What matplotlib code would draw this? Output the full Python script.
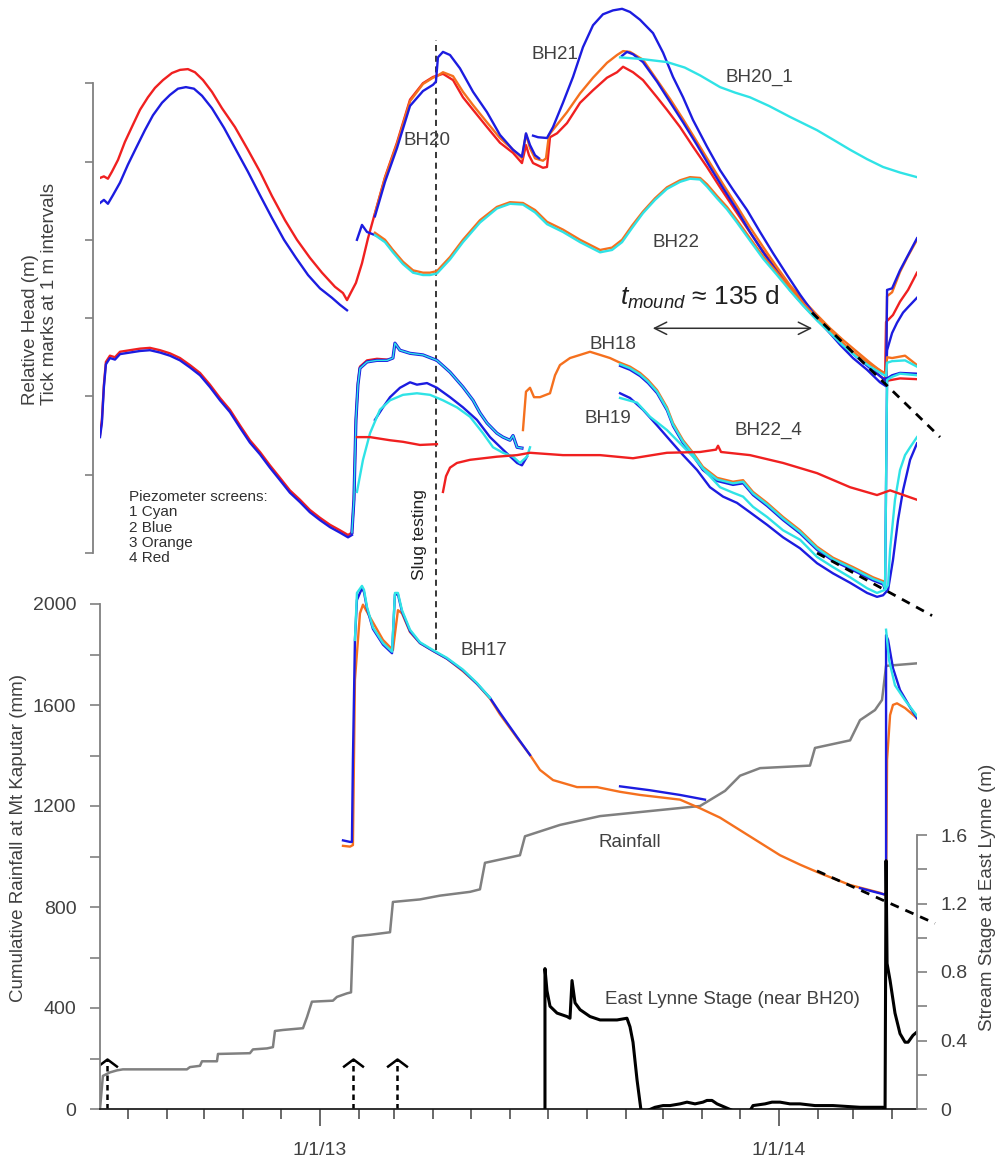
import numpy as np
import pandas as pd
import matplotlib
matplotlib.use("Agg")
import matplotlib.pyplot as plt
from matplotlib.path import Path

plt.rcParams["font.family"] = ["Liberation Sans", "DejaVu Sans"]
plt.rcParams["mathtext.fontset"] = "custom"
plt.rcParams["mathtext.rm"] = "Liberation Sans"
plt.rcParams["mathtext.it"] = "Liberation Sans:italic"

BLUE = "#1c1ce0"
RED = "#f02020"
ORANGE = "#f5701e"
CYAN = "#2fe3e6"
GREY = "#808080"
TXT = "#404040"

# time axis: days counted from 1 Jan 2013
T0, T1 = -174.9, 474.7

# ---- piezometer heads (m, arbitrary offsets per bore) ----
bh20_red = [(-174.9, 4.79), (-171.8, 4.81), (-168.6, 4.78), (-165.4, 4.87), (-160.6, 5.02),
            (-155.1, 5.25), (-148.7, 5.47), (-143.1, 5.66), (-136.8, 5.82), (-131.2, 5.94),
            (-124.8, 6.04), (-117.7, 6.13), (-111.3, 6.17), (-105.0, 6.18), (-99.4, 6.14),
            (-93.0, 6.04), (-85.9, 5.89), (-77.9, 5.68), (-67.6, 5.44), (-57.3, 5.15),
            (-47.7, 4.87), (-38.2, 4.56), (-27.8, 4.25), (-18.3, 4.00), (-8.0, 3.77),
            (1.6, 3.58), (11.9, 3.40), (18.3, 3.32), (21.5, 3.23), (24.7, 3.33), (28.6, 3.45),
            (33.4, 3.70), (38.2, 4.02), (43.7, 4.34), (51.7, 4.80), (61.2, 5.24), (71.6, 5.79),
            (81.9, 6.00), (89.9, 6.08), (97.8, 6.12), (105.8, 6.04), (113.7, 5.82), (121.7, 5.66),
            (132.8, 5.44), (143.1, 5.24), (153.5, 5.11), (160.6, 4.98), (163.8, 5.21),
            (166.2, 5.08), (169.4, 4.98), (177.3, 4.92), (180.5, 4.93), (182.9, 5.31),
            (188.5, 5.36), (196.4, 5.49), (206.8, 5.75), (217.1, 5.91), (228.2, 6.07),
            (236.2, 6.14), (241.0, 6.21), (248.9, 6.14), (256.8, 6.04), (268.0, 5.82),
            (275.9, 5.66), (286.3, 5.44), (296.6, 5.19), (307.7, 4.93), (318.1, 4.67),
            (328.4, 4.42), (339.6, 4.15), (349.9, 3.91), (360.2, 3.68), (371.4, 3.45),
            (381.7, 3.23), (392.0, 3.04), (403.2, 2.85), (413.5, 2.69), (423.8, 2.55),
            (435.0, 2.41), (445.3, 2.26), (449.3, 2.21), (450.1, 2.95), (455.6, 3.04),
            (461.2, 3.21), (467.6, 3.36), (474.7, 3.58)]

bh20_blue_2012 = [(-174.9, 4.47), (-171.8, 4.51), (-168.6, 4.46), (-164.6, 4.57), (-159.0, 4.73),
                  (-152.7, 4.96), (-146.3, 5.17), (-139.2, 5.40), (-132.8, 5.59), (-125.6, 5.75),
                  (-119.3, 5.85), (-112.9, 5.93), (-106.6, 5.95), (-100.2, 5.93), (-93.8, 5.84),
                  (-85.9, 5.68), (-76.3, 5.43), (-66.8, 5.15), (-57.3, 4.87), (-47.7, 4.57),
                  (-38.2, 4.28), (-28.6, 4.00), (-19.1, 3.77), (-9.5, 3.55), (0.0, 3.38),
                  (9.5, 3.26), (15.9, 3.17), (21.5, 3.10)]

bh20_blue_2013 = [(43.7, 4.30), (51.7, 4.74), (61.2, 5.17), (71.6, 5.71), (81.9, 5.90),
                  (89.9, 5.98), (92.2, 6.02), (93.8, 6.33), (97.8, 6.40), (103.4, 6.36),
                  (111.3, 6.19), (121.7, 5.89), (132.8, 5.63), (143.1, 5.34), (153.5, 5.15),
                  (160.6, 5.06), (163.8, 5.36), (167.0, 5.21), (171.0, 5.08), (174.2, 5.04)]

bh20_blue_late = [(240.2, 6.35), (244.1, 6.40), (248.9, 6.37), (256.8, 6.27), (268.0, 6.02),
                  (278.3, 5.76), (288.7, 5.50), (299.8, 5.21), (310.1, 4.93), (320.5, 4.66),
                  (331.6, 4.38), (341.9, 4.10), (352.3, 3.84), (363.4, 3.59), (373.7, 3.36),
                  (384.1, 3.17), (395.2, 2.98), (405.6, 2.81), (415.9, 2.66), (427.0, 2.50),
                  (437.4, 2.36), (447.7, 2.23), (450.1, 2.20), (450.9, 2.59), (454.9, 2.81),
                  (458.8, 2.94), (463.6, 3.07), (467.6, 3.14), (474.7, 3.26)]

bh20_orange = [(43.7, 4.33), (51.7, 4.79), (61.2, 5.22), (71.6, 5.77), (81.9, 5.99), (89.9, 6.07),
               (93.0, 6.09), (97.8, 6.14), (105.8, 6.09), (113.7, 5.89), (121.7, 5.72),
               (132.8, 5.50), (143.1, 5.30), (153.5, 5.15), (160.6, 5.04), (163.8, 5.35),
               (167.0, 5.17), (171.0, 5.04), (177.3, 5.01), (179.7, 5.04), (182.1, 5.34),
               (188.5, 5.47), (196.4, 5.63), (206.8, 5.87), (217.1, 6.07), (228.2, 6.26),
               (236.2, 6.36), (241.0, 6.41), (246.5, 6.40), (256.8, 6.30), (268.0, 6.04),
               (278.3, 5.80), (288.7, 5.54), (299.8, 5.25), (310.1, 4.98), (320.5, 4.71),
               (331.6, 4.43), (341.9, 4.16), (352.3, 3.91), (363.4, 3.65), (373.7, 3.42),
               (384.1, 3.23), (395.2, 3.04), (405.6, 2.87), (415.9, 2.72), (427.0, 2.57),
               (437.4, 2.43), (447.7, 2.30), (450.1, 2.26), (450.9, 3.28), (454.9, 3.33),
               (461.2, 3.59), (466.8, 3.77), (474.7, 4.00)]

bh21_blue = [(169.4, 5.33), (173.4, 5.31), (180.5, 5.30), (185.3, 5.44), (193.2, 5.75),
             (201.2, 6.08), (209.1, 6.46), (217.1, 6.74), (225.0, 6.88), (233.0, 6.93),
             (240.2, 6.95), (246.5, 6.91), (254.5, 6.81), (264.8, 6.64), (272.8, 6.39),
             (280.7, 6.08), (288.7, 5.82), (296.6, 5.53), (307.7, 5.19), (318.1, 4.89),
             (328.4, 4.64), (339.6, 4.38), (349.9, 4.10), (360.2, 3.83), (371.4, 3.55),
             (381.7, 3.30), (392.0, 3.07), (403.2, 2.85), (413.5, 2.66), (423.8, 2.49),
             (435.0, 2.34), (445.3, 2.18), (450.1, 2.13), (450.9, 3.36), (454.9, 3.38),
             (461.2, 3.61), (466.8, 3.78), (474.7, 4.02)]

bh20_1_cyan = [(238.6, 6.33), (255.0, 6.31), (275.9, 6.27), (290.0, 6.20), (302.2, 6.10),
               (318.1, 5.95), (330.0, 5.88), (341.9, 5.82), (357.0, 5.71), (373.7, 5.57),
               (395.2, 5.40), (410.0, 5.26), (421.5, 5.15), (435.0, 5.03), (447.7, 4.93),
               (461.0, 4.86), (474.7, 4.80)]

bh22_days = [43.7, 51.7, 58.0, 66.0, 74.0, 81.9, 87.5, 93.0, 103.4, 113.7, 127.2, 140.7,
             151.1, 161.4, 171.0, 180.5, 193.2, 206.8, 222.7, 232.2, 240.2, 248.1, 256.8,
             266.4, 275.9, 286.3, 294.2, 302.2, 307.7, 315.7, 323.6, 331.6, 341.9, 352.3,
             363.4, 373.7, 384.1, 395.2, 405.6, 415.9, 427.0, 437.4, 447.7, 450.1, 450.9,
             454.9, 465.2, 474.7]
bh22_orange = [4.09, 4.00, 3.87, 3.72, 3.61, 3.58, 3.58, 3.60, 3.78, 4.00, 4.25, 4.42, 4.48,
               4.47, 4.38, 4.23, 4.13, 4.00, 3.87, 3.90, 4.00, 4.18, 4.36, 4.53, 4.67, 4.76,
               4.80, 4.79, 4.71, 4.56, 4.42, 4.25, 4.02, 3.79, 3.58, 3.38, 3.19, 3.00, 2.84,
               2.68, 2.53, 2.41, 2.31, 2.29, 2.50, 2.49, 2.52, 2.40]
bh22_cyan = [4.06, 3.97, 3.84, 3.69, 3.58, 3.55, 3.55, 3.57, 3.75, 3.97, 4.22, 4.40, 4.46,
             4.45, 4.35, 4.20, 4.10, 3.97, 3.84, 3.87, 3.97, 4.15, 4.34, 4.51, 4.65, 4.74,
             4.78, 4.77, 4.68, 4.53, 4.39, 4.22, 3.99, 3.76, 3.55, 3.35, 3.16, 2.97, 2.81,
             2.65, 2.50, 2.38, 2.28, 2.26, 2.43, 2.45, 2.46, 2.38]
bh22_blue = [(29.4, 4.00), (33.4, 4.19), (37.4, 4.10), (45.3, 4.05), (51.7, 3.98),
             (58.0, 3.86), (66.0, 3.70), (74.0, 3.60)]

bh18_days_2012 = [-174.9, -173.4, -171.8, -170.2, -167.0, -163.0, -159.0, -151.1, -143.1,
                  -135.2, -127.2, -119.3, -111.3, -103.4, -95.4, -87.5, -79.5, -71.6, -63.6,
                  -55.7, -47.7, -39.8, -31.8, -23.9, -15.9, -8.0, 0.0, 8.0, 15.9, 22.3, 25.4]
bh18_red_2012 = [1.51, 1.70, 2.15, 2.44, 2.52, 2.50, 2.57, 2.59, 2.61, 2.62, 2.59, 2.55, 2.49,
                 2.40, 2.30, 2.15, 1.98, 1.83, 1.63, 1.44, 1.29, 1.12, 0.96, 0.80, 0.68, 0.55,
                 0.45, 0.36, 0.29, 0.23, 0.26]
bh18_blue_2012 = [1.48, 1.66, 2.12, 2.41, 2.49, 2.47, 2.54, 2.56, 2.58, 2.59, 2.56, 2.52, 2.46,
                  2.37, 2.27, 2.12, 1.95, 1.80, 1.60, 1.41, 1.26, 1.09, 0.93, 0.77, 0.65, 0.52,
                  0.42, 0.33, 0.26, 0.20, 0.23]

bh18_2013 = [(25.4, 0.26), (27.0, 0.68), (28.6, 1.70), (30.2, 2.15), (31.8, 2.36), (37.4, 2.44),
             (45.3, 2.46), (53.3, 2.46), (58.0, 2.49), (59.6, 2.68), (63.6, 2.59), (71.6, 2.55),
             (81.9, 2.53), (93.0, 2.46), (103.4, 2.31), (113.7, 2.12), (121.7, 1.95),
             (127.2, 1.79), (132.8, 1.66), (140.7, 1.53), (145.5, 1.48), (151.1, 1.44),
             (153.5, 1.50), (156.7, 1.35), (160.6, 1.34)]
bh18_red_2013 = [(25.4, 0.26), (27.0, 0.68), (28.6, 1.70), (30.2, 2.17), (31.8, 2.38),
                 (37.4, 2.46), (45.3, 2.48), (53.3, 2.47)]

bh18_orange = [(161.4, 1.57), (163.8, 2.06), (167.0, 2.11), (170.2, 1.99), (174.9, 1.99),
               (182.9, 2.04), (186.9, 2.27), (190.8, 2.40), (198.8, 2.49), (206.8, 2.53),
               (214.7, 2.57), (222.7, 2.53), (230.6, 2.49), (238.6, 2.43), (246.5, 2.38),
               (254.5, 2.30), (260.8, 2.21), (268.0, 2.08), (275.9, 1.86), (280.7, 1.66),
               (288.7, 1.44), (296.6, 1.28), (304.5, 1.10), (315.7, 0.96), (328.4, 0.91),
               (336.4, 0.93), (344.3, 0.78), (355.5, 0.64), (368.2, 0.46), (381.7, 0.29),
               (395.2, 0.08), (407.9, -0.06), (423.8, -0.18), (439.7, -0.31), (447.7, -0.36)]
bh18_days_late = [238.6, 246.5, 254.5, 260.8, 268.0, 275.9, 280.7, 288.7, 296.6, 304.5, 315.7,
                  328.4, 336.4, 344.3, 355.5, 368.2, 381.7, 395.2, 407.9, 423.8, 439.7, 447.7,
                  449.3, 450.9, 454.9, 461.2, 474.7]
bh18_cyan_late = [2.41, 2.36, 2.28, 2.19, 2.06, 1.84, 1.64, 1.42, 1.26, 1.08, 0.94, 0.89, 0.91,
                  0.76, 0.62, 0.44, 0.27, 0.06, -0.08, -0.20, -0.33, -0.38, -0.45, 2.21, 2.25,
                  2.29, 2.27]
bh18_blue_late = [2.39, 2.34, 2.26, 2.17, 2.04, 1.82, 1.62, 1.40, 1.24, 1.06, 0.92, 0.87, 0.89,
                  0.74, 0.60, 0.42, 0.25, 0.04, -0.10, -0.22, -0.35, -0.40, -0.47, 2.23, 2.27,
                  2.30, 2.29]
bh18_red_end = [(450.9, 2.20), (461.2, 2.23), (474.7, 2.22)]

bh19_cyan_2013 = [(29.4, 0.78), (34.2, 1.19), (39.8, 1.53), (47.7, 1.83), (55.7, 1.95),
                  (66.0, 2.02), (77.1, 2.04), (87.5, 2.02), (97.8, 1.95), (108.9, 1.86),
                  (119.3, 1.74), (129.6, 1.53), (137.6, 1.35), (145.5, 1.28), (153.5, 1.23),
                  (159.0, 1.15), (164.6, 1.23), (167.0, 1.35)]
bh19_blue_2013 = [(43.7, 1.70), (50.1, 1.86), (55.7, 1.99), (63.6, 2.11), (71.6, 2.18),
                  (77.1, 2.15), (85.1, 2.17), (93.0, 2.11), (103.4, 1.99), (113.7, 1.86),
                  (124.8, 1.70), (135.2, 1.48), (145.5, 1.32), (156.7, 1.15), (160.6, 1.12),
                  (164.6, 1.23)]
bh19_cyan_late = [(238.6, 1.98), (252.1, 1.92), (262.4, 1.74), (275.9, 1.57), (286.3, 1.40),
                  (296.6, 1.23), (307.7, 1.02), (318.1, 0.84), (328.4, 0.77), (336.4, 0.72),
                  (344.3, 0.59), (355.5, 0.46), (368.2, 0.29), (381.7, 0.17), (395.2, -0.05),
                  (407.9, -0.18), (421.5, -0.31), (435.0, -0.45), (442.9, -0.51), (449.3, -0.47),
                  (451.7, -0.41), (453.3, 0.04), (457.2, 0.68), (461.2, 1.06), (465.2, 1.25),
                  (469.2, 1.35), (474.7, 1.48)]
bh19_blue_late = [(238.6, 2.04), (246.5, 1.98), (256.8, 1.83), (268.0, 1.63), (278.3, 1.44),
                  (288.7, 1.25), (299.8, 1.06), (310.1, 0.84), (320.5, 0.72), (331.6, 0.64),
                  (341.9, 0.52), (355.5, 0.36), (368.2, 0.20), (381.7, 0.06), (395.2, -0.13),
                  (407.9, -0.26), (421.5, -0.38), (435.0, -0.51), (442.9, -0.56), (447.7, -0.54),
                  (451.7, -0.47), (455.6, -0.09), (459.6, 0.42), (463.6, 0.80), (469.2, 1.19),
                  (474.7, 1.40)]

bh22_4_red_a = [(29.4, 1.48), (39.8, 1.48), (55.7, 1.44), (66.0, 1.42), (79.5, 1.38), (93.0, 1.39)]
bh22_4_red_b = [(97.8, 0.78), (100.2, 0.98), (103.4, 1.09), (108.9, 1.15), (119.3, 1.19),
                (140.7, 1.23), (156.7, 1.25), (167.0, 1.28), (193.2, 1.25), (222.7, 1.25),
                (248.9, 1.21), (275.9, 1.28), (302.2, 1.29), (314.9, 1.32), (316.5, 1.37),
                (318.9, 1.29), (341.9, 1.25), (368.2, 1.15), (395.2, 1.02), (421.5, 0.84),
                (442.9, 0.74), (453.3, 0.80), (474.7, 0.68)]

bh17_orange = [(18.3, -3.74), (23.9, -3.75), (26.2, -3.73), (27.8, -1.62), (31.8, -0.77),
               (34.2, -0.66), (39.8, -0.82), (50.1, -1.11), (58.0, -1.24), (62.0, -0.73),
               (65.2, -0.77), (71.6, -1.01), (79.5, -1.15), (89.9, -1.25), (101.0, -1.35),
               (113.7, -1.51), (124.8, -1.67), (135.2, -1.86), (143.1, -2.06), (156.7, -2.36),
               (167.0, -2.58), (174.9, -2.77), (185.3, -2.90), (204.4, -2.99), (220.3, -2.99),
               (238.6, -3.05), (254.5, -3.09), (270.4, -3.12), (286.3, -3.15), (302.2, -3.26),
               (318.1, -3.38), (334.0, -3.54), (349.9, -3.70), (365.8, -3.86), (381.7, -3.98),
               (397.6, -4.09), (421.5, -4.24), (445.3, -4.34), (450.1, -4.37), (450.9, -2.64),
               (453.3, -2.07), (455.6, -1.94), (458.8, -1.92), (465.2, -1.98), (474.7, -2.11)]
bh17_blue = [(18.3, -3.67), (23.9, -3.69), (25.4, -3.69), (26.2, -2.64), (27.8, -1.11),
             (29.4, -0.60), (33.4, -0.45), (35.0, -0.50), (37.4, -0.71), (42.1, -0.97),
             (50.1, -1.17), (57.3, -1.28), (59.6, -0.53), (62.0, -0.53), (65.2, -0.75),
             (71.6, -1.00), (79.5, -1.15), (89.9, -1.25), (101.0, -1.35), (113.7, -1.50),
             (124.8, -1.67), (135.2, -1.85), (143.1, -2.04), (156.7, -2.35), (167.0, -2.58)]
bh17_cyan = [(27.8, -1.11), (29.4, -0.51), (33.4, -0.42), (35.0, -0.47), (37.4, -0.69),
             (42.1, -0.95), (50.1, -1.15), (57.3, -1.26), (59.6, -0.51), (62.0, -0.51),
             (65.2, -0.73), (71.6, -0.98), (79.5, -1.14), (89.9, -1.24), (101.0, -1.34),
             (113.7, -1.49), (124.8, -1.66), (135.2, -1.85)]
bh17_blue_mid = [(238.6, -2.98), (262.4, -3.03), (286.3, -3.09), (306.1, -3.15)]
bh17_blue_end = [(429.4, -4.28), (448.5, -4.36), (450.1, -4.34), (450.1, -1.05), (451.7, -1.11),
                 (455.6, -1.47), (461.2, -1.75), (469.2, -1.97), (474.7, -2.11)]
bh17_cyan_end = [(450.1, -0.98), (452.5, -1.37), (457.2, -1.69), (465.2, -1.88), (474.7, -2.08)]

# recession trends extrapolated past the end of the record
trend_bh20 = [(391.2, 3.07), (493.0, 1.48)]
trend_bh18 = [(395.2, 0.00), (486.7, -0.80)]
trend_bh17 = [(395.2, -4.06), (489.0, -4.73)]

# ---- cumulative rainfall at Mt Kaputar (mm) ----
rain = [(-174.9, 0), (-172.6, 131), (-167.0, 145), (-161.4, 153), (-156.7, 157), (-105.8, 157),
        (-103.4, 166), (-95.4, 171), (-93.8, 189), (-81.9, 189), (-81.1, 218), (-55.7, 221),
        (-53.3, 236), (-42.1, 240), (-37.4, 245), (-35.8, 309), (-29.4, 313), (-13.5, 320),
        (-10.3, 364), (-6.4, 425), (10.3, 429), (13.5, 444), (21.5, 458), (24.7, 462),
        (26.2, 680), (29.4, 685), (39.8, 690), (55.7, 700), (58.0, 820), (79.5, 830),
        (95.4, 845), (119.3, 860), (127.2, 870), (131.2, 975), (159.0, 1005), (163.0, 1080),
        (190.8, 1125), (222.7, 1160), (262.4, 1180), (302.2, 1200), (322.1, 1260),
        (334.0, 1320), (349.9, 1350), (389.6, 1360), (393.6, 1430), (421.5, 1460),
        (429.4, 1540), (441.3, 1580), (446.9, 1620), (450.1, 1755), (474.7, 1765)]

# ---- stream stage at East Lynne (m) ----
stage = [(178.9, 0.01), (178.9, 0.82), (180.5, 0.69), (182.9, 0.60), (188.5, 0.56), (196.4, 0.54),
         (198.8, 0.53), (200.4, 0.75), (202.8, 0.62), (206.8, 0.58), (214.7, 0.54), (222.7, 0.52),
         (236.2, 0.52), (244.1, 0.53), (246.5, 0.48), (248.9, 0.39), (252.1, 0.17),
         (255.3, -0.01), (256.8, -0.05), (260.0, -0.01), (266.4, 0.01), (272.8, 0.02),
         (278.3, 0.02), (286.3, 0.03), (291.8, 0.04), (298.2, 0.03), (304.5, 0.04),
         (307.7, 0.05), (311.7, 0.05), (315.7, 0.03), (322.1, 0.01), (328.4, -0.01),
         (341.9, -0.01), (344.3, 0.02), (353.9, 0.03), (359.4, 0.04), (365.8, 0.04),
         (373.7, 0.03), (381.7, 0.03), (393.6, 0.02), (407.9, 0.02), (429.4, 0.01),
         (447.7, 0.01), (449.3, -0.02), (450.1, 1.45), (450.9, 0.85), (453.3, 0.75),
         (457.2, 0.56), (461.2, 0.44), (465.2, 0.39), (467.6, 0.39), (471.5, 0.43),
         (474.7, 0.45)]

rain_events = [-169.4, 26.2, 61.2]
event_arrow_top = 200
slug_day = 92.2


def xy(seq):
    a = np.asarray(seq, dtype=float)
    return a[:, 0], a[:, 1]


def trace(axis, seq, color, lw=1.7, **kw):
    d, v = xy(seq)
    axis.plot(d, v, color=color, lw=lw, solid_joinstyle="round", **kw)


fig = plt.figure(figsize=(10, 11.6), dpi=100)
pos = [0.100, 51 / 1160, 0.817, 1109 / 1160]
ax = fig.add_axes(pos)
ax_h = ax.twinx()
ax_s = ax.twinx()
for a in (ax, ax_h, ax_s):
    a.set_position(pos)
    a.patch.set_visible(False)
    for s in a.spines.values():
        s.set_visible(False)

ax.set_xlim(T0, T1)
ax.set_ylim(0, 1109 / 0.2525)
ax_h.set_ylim(-556 / 78.3, 553 / 78.3)
ax_s.set_ylim(0, 1109 / 171.25)

# rainfall axis (left, lower part)
ax.spines["left"].set_visible(True)
ax.spines["left"].set_bounds(0, 2000)
ax.spines["left"].set_color(GREY)
ax.spines["left"].set_linewidth(1.3)
ax.set_yticks(np.arange(0, 2001, 400))
ax.set_yticks(np.arange(200, 2000, 400), minor=True)
ax.tick_params(axis="y", which="both", direction="out", length=7, width=1.2, color=GREY,
               labelsize=14, labelcolor=TXT, pad=10)

# time axis
ax.spines["bottom"].set_visible(True)
ax.spines["bottom"].set_color("#202020")
ax.spines["bottom"].set_linewidth(1.3)
t_ref = pd.Timestamp("2013-01-01")
months = pd.date_range("2012-08-01", "2014-04-01", freq="MS")
month_days = [(m - t_ref).days for m in months if m.month != 1]
ax.set_xticks([0, 365])
ax.set_xticklabels(["1/1/13", "1/1/14"])
ax.set_xticks(month_days, minor=True)
ax.tick_params(axis="x", which="major", direction="out", length=12, width=1.2, color="#505050",
               labelsize=14, labelcolor=TXT, pad=12)
ax.tick_params(axis="x", which="minor", direction="out", length=7, width=1.2, color="#505050")

# relative head axis (left, upper part)
ax_h.yaxis.tick_left()
ax_h.spines["left"].set_visible(True)
ax_h.spines["left"].set_position(("outward", 5))
ax_h.spines["left"].set_bounds(0, 6)
ax_h.spines["left"].set_color(GREY)
ax_h.spines["left"].set_linewidth(1.3)
ax_h.set_yticks(range(0, 7))
ax_h.tick_params(axis="y", direction="out", length=6, width=1.2, color=GREY, labelleft=False,
                 labelright=False)
ax_h.yaxis.get_major_ticks()[4].tick1line.set_color("black")

# stream stage axis (right, lower part)
ax_s.spines["right"].set_visible(True)
ax_s.spines["right"].set_bounds(0, 1.6)
ax_s.spines["right"].set_color(GREY)
ax_s.spines["right"].set_linewidth(1.3)
ax_s.set_yticks([0, 0.4, 0.8, 1.2, 1.6])
ax_s.set_yticklabels(["0", "0.4", "0.8", "1.2", "1.6"])
ax_s.set_yticks([0.2, 0.6, 1.0, 1.4], minor=True)
ax_s.tick_params(axis="y", which="both", direction="out", length=7, width=1.2, color=GREY,
                 labelsize=14, labelcolor=TXT, pad=10)

# rainfall and rain events
trace(ax, rain, GREY, lw=1.8)
chevron = Path([(-1.0, -0.75), (0.0, 0.0), (1.0, -0.75)])
for ev in rain_events:
    ax.plot([ev, ev], [0, event_arrow_top], color="black", lw=1.8, dashes=(2.2, 1.6))
    ax.plot([ev], [event_arrow_top], marker=chevron, ms=15, mfc="none", mec="black", mew=1.8)

# heads: BH20 / BH21 / BH22 (top group)
trace(ax_h, bh20_red, RED)
trace(ax_h, bh20_orange, ORANGE)
trace(ax_h, bh20_blue_2012, BLUE)
trace(ax_h, bh20_blue_2013, BLUE)
trace(ax_h, bh20_blue_late, BLUE)
trace(ax_h, bh21_blue, BLUE)
trace(ax_h, bh20_1_cyan, CYAN)
trace(ax_h, bh22_blue, BLUE)
ax_h.plot(bh22_days, bh22_orange, color=ORANGE, lw=1.7)
ax_h.plot(bh22_days, bh22_cyan, color=CYAN, lw=1.7)

# BH18 / BH19 / BH22_4 (middle group)
ax_h.plot(bh18_days_2012, bh18_red_2012, color=RED, lw=1.7)
ax_h.plot(bh18_days_2012, bh18_blue_2012, color=BLUE, lw=1.7)
trace(ax_h, bh18_red_2013, RED)
trace(ax_h, bh18_2013, BLUE, lw=2.3)
trace(ax_h, bh18_2013, CYAN, lw=1.0)
trace(ax_h, bh18_orange, ORANGE)
trace(ax_h, bh18_red_end, RED)
ax_h.plot(bh18_days_late, bh18_blue_late, color=BLUE, lw=1.7)
ax_h.plot(bh18_days_late, bh18_cyan_late, color=CYAN, lw=1.7)
trace(ax_h, bh19_blue_2013, BLUE)
trace(ax_h, bh19_cyan_2013, CYAN)
trace(ax_h, bh19_blue_late, BLUE)
trace(ax_h, bh19_cyan_late, CYAN)
trace(ax_h, bh22_4_red_a, RED)
trace(ax_h, bh22_4_red_b, RED)

# BH17 (lower group)
trace(ax_h, bh17_orange, ORANGE)
trace(ax_h, bh17_blue, BLUE)
trace(ax_h, bh17_cyan, CYAN)
trace(ax_h, bh17_blue_mid, BLUE)
trace(ax_h, bh17_blue_end, BLUE)
trace(ax_h, bh17_cyan_end, CYAN)

for tr in (trend_bh20, trend_bh18, trend_bh17):
    d, v = xy(tr)
    ax_h.plot(d, v, color="black", lw=2.0, dashes=(3.2, 2.6), clip_on=False)

# stage
trace(ax_s, stage, "black", lw=2.2)

# slug testing marker
ax.axvline(slug_day, ymin=(1109 - 650) / 1109, ymax=(1109 - 40) / 1109, color="black",
           lw=1.1, dashes=(4, 3))
ax_h.text(79.5, 0.23, "Slug testing", rotation=90, ha="center", va="center", fontsize=12.5,
          color="#202020")

# mound duration
ax_h.annotate("", xy=(262.4, 2.87), xytext=(393.6, 2.87),
              arrowprops=dict(arrowstyle="<->", color="#303030", lw=1.1, mutation_scale=22))
ax_h.text(302.0, 3.27, r"$t_{mound}$ ≈ 135 d", ha="center", va="center", fontsize=19,
          color="#202020")

# bore labels
lab = dict(fontsize=13.5, color=TXT, ha="center", va="center")
ax_h.text(186.9, 6.37, "BH21", **lab)
ax_h.text(349.1, 6.07, "BH20_1", **lab)
ax_h.text(85.1, 5.27, "BH20", **lab)
ax_h.text(283.1, 3.97, "BH22", **lab)
ax_h.text(233.0, 2.66, "BH18", **lab)
ax_h.text(229.0, 1.72, "BH19", **lab)
ax_h.text(356.3, 1.56, "BH22_4", **lab)
ax_h.text(130.4, -1.24, "BH17", **lab)
ax.text(246.5, 1057, "Rainfall", **lab)
ax_s.text(327.6, 0.64, "East Lynne Stage (near BH20)", **lab)

ax_h.text(-151.9, 0.80, "Piezometer screens:\n1 Cyan\n2 Blue\n3 Orange\n4 Red", ha="left",
          va="top", fontsize=11, color="#303030", linespacing=1.1)

# axis titles
fig.text(40 / 1000, 1 - 405 / 1160, "Relative Head (m)\nTick marks at 1 m intervals",
         rotation=90, ha="center", va="bottom", multialignment="left", fontsize=13.5,
         color=TXT, linespacing=1.15)
fig.text(19 / 1000, 1 - 838 / 1160, "Cumulative Rainfall at Mt Kaputar (mm)", rotation=90,
         ha="center", va="center", fontsize=13.5, color=TXT)
fig.text(987 / 1000, 1 - 897 / 1160, "Stream Stage at East Lynne (m)", rotation=90,
         ha="center", va="center", fontsize=13.5, color=TXT)

fig.savefig("out.png", dpi=100)
